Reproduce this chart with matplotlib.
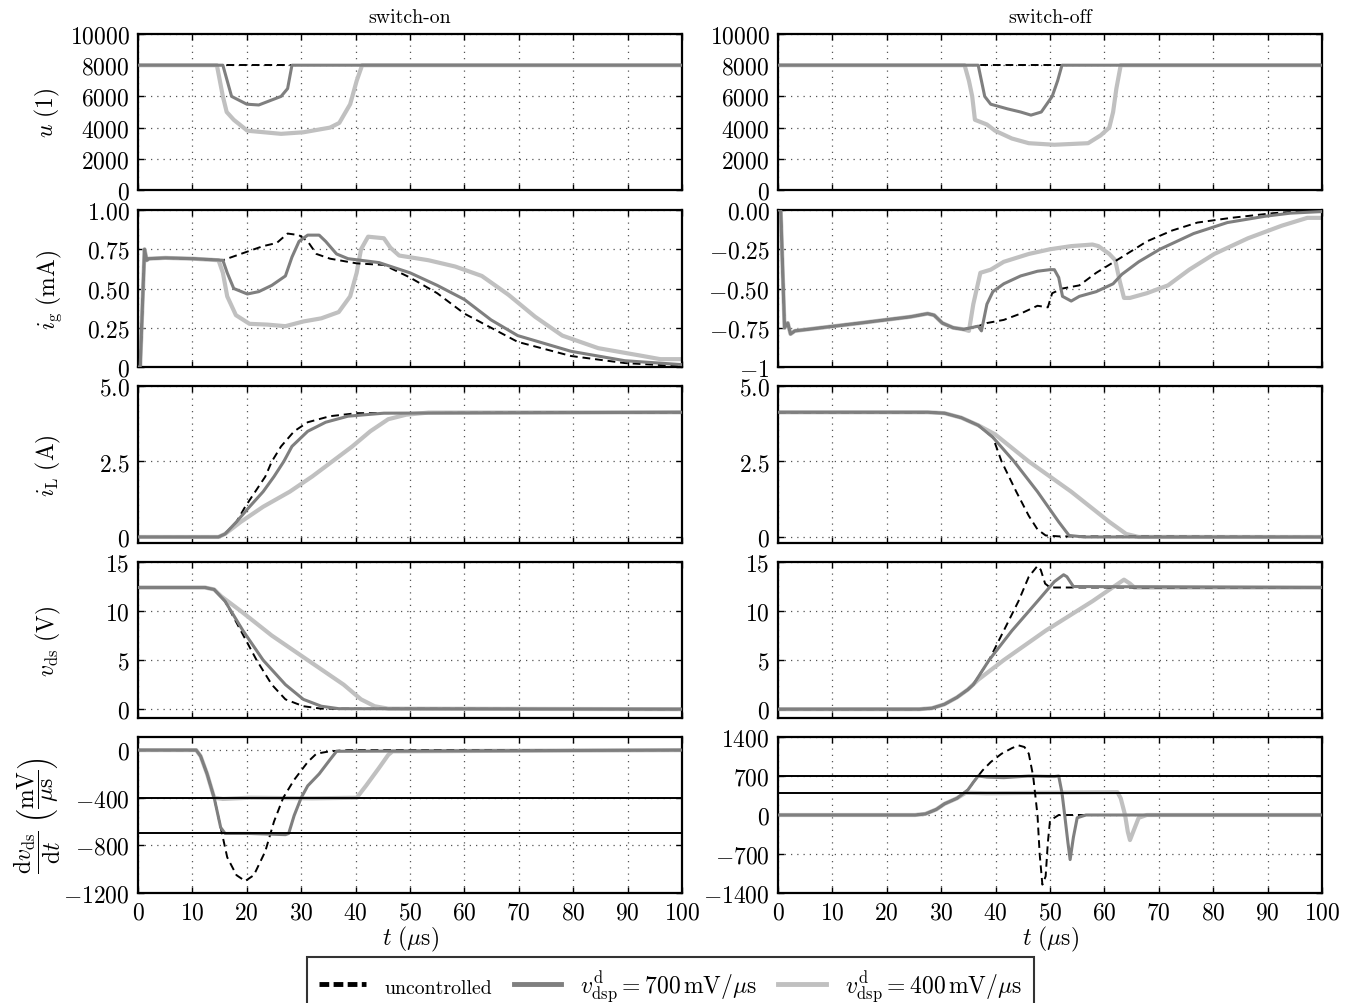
import matplotlib
matplotlib.use("Agg")
import matplotlib.pyplot as plt
from matplotlib.lines import Line2D
import numpy as np

plt.rcParams.update({
    "font.family": "serif",
    "font.serif": ["cmr10", "DejaVu Serif"],
    "mathtext.fontset": "cm",
    "axes.formatter.use_mathtext": True,
    "font.size": 17,
})

# ---------------- data ----------------
# Row 1: u (1)
t_u_on_unc = [0, 100]; u_on_unc = [8000, 8000]
t_u_on_700 = [0, 15.6, 17.2, 20.0, 22.2, 26.3, 27.5, 28.3, 100]
u_on_700 = [8000, 8000, 6000, 5500, 5450, 6000, 6500, 8000, 8000]
t_u_on_400 = [0, 14.5, 15.6, 16.3, 17.6, 20.1, 26.3, 30.4, 35.3, 37.0, 39.0, 40.2, 41.2, 100]
u_on_400 = [8000, 8000, 6000, 5000, 4500, 3800, 3600, 3700, 4000, 4300, 5500, 7000, 8000, 8000]

t_u_off_unc = [0, 100]; u_off_unc = [8000, 8000]
t_u_off_700 = [0, 36.8, 38.0, 39.1, 42.2, 44.6, 46.5, 48.4, 50.4, 51.4, 52.2, 100]
u_off_700 = [8000, 8000, 6000, 5500, 5200, 5000, 4800, 5000, 6000, 7000, 8000, 8000]
t_u_off_400 = [0, 34.3, 35.1, 35.7, 36.2, 38.4, 39.9, 43.0, 46.1, 50.8, 57.0, 59.3, 60.9, 61.6, 62.2, 63.0, 100]
u_off_400 = [8000, 8000, 7000, 6000, 4500, 4200, 3800, 3300, 3000, 2900, 3000, 3500, 4000, 5000, 6500, 8000, 8000]

# Row 2: i_g (mA)
t_ig_on_700 = [0, 0.4, 1.2, 1.6, 2.0, 5, 10, 15.6, 16.4, 17.6, 20.1, 22.2, 24.6, 27.1, 28.3, 29.6, 31.2,
               33.3, 34.5, 36.5, 38.6, 44.3, 50, 55, 60, 64.9, 69.8, 79.6, 89.5, 100]
ig_on_700 = [0, 0, 0.75, 0.68, 0.69, 0.695, 0.69, 0.68, 0.60, 0.50, 0.465, 0.48, 0.52, 0.58, 0.70, 0.80, 0.84,
             0.84, 0.80, 0.72, 0.69, 0.665, 0.60, 0.52, 0.43, 0.30, 0.20, 0.10, 0.04, 0.015]
t_ig_on_unc = [0, 0.4, 1.2, 1.6, 2.0, 5, 10, 15.6, 16.4, 19.7, 23.0, 25.5, 27.5, 29.6, 31.2, 32.8, 35.3,
               40.2, 45.2, 50, 55, 60, 64.9, 69.8, 79.6, 89.5, 100]
ig_on_unc = [0, 0, 0.75, 0.68, 0.69, 0.695, 0.69, 0.68, 0.69, 0.73, 0.77, 0.79, 0.85, 0.84, 0.80, 0.72, 0.69,
             0.66, 0.65, 0.57, 0.47, 0.34, 0.25, 0.16, 0.07, 0.025, 0.005]
t_ig_on_400 = [0, 0.4, 1.2, 1.6, 2.0, 5, 10, 14.8, 15.6, 16.4, 18.0, 20.5, 23.8, 27.1, 30.4, 33.7, 36.9, 39.0,
               40.2, 41.0, 42.3, 45.2, 46.4, 48.0, 53.4, 58.3, 63.2, 68.1, 73.0, 78.0, 84.6, 92.8, 96.0, 100]
ig_on_400 = [0, 0, 0.75, 0.68, 0.69, 0.695, 0.69, 0.68, 0.60, 0.45, 0.33, 0.275, 0.27, 0.26, 0.29, 0.31, 0.35, 0.45,
             0.60, 0.75, 0.83, 0.82, 0.76, 0.71, 0.68, 0.64, 0.58, 0.46, 0.32, 0.20, 0.12, 0.07, 0.05, 0.05]

t_ig_off_700 = [0, 0.5, 1.2, 1.8, 2.3, 3.1, 15.1, 24.4, 27.5, 28.7, 30.2, 32.2, 34.1, 36.8, 37.4, 38.4, 39.5,
                41.5, 44.6, 47.7, 50.0, 50.8, 51.6, 52.3, 53.9, 55.4, 58.5, 61.6, 63.2, 66.3, 70.2, 76.4, 82.6,
                89.5, 94.2, 100]
ig_off_700 = [0, 0, -0.75, -0.72, -0.79, -0.77, -0.72, -0.68, -0.66, -0.67, -0.72, -0.75, -0.76, -0.74, -0.77,
              -0.60, -0.52, -0.47, -0.42, -0.39, -0.38, -0.38, -0.43, -0.55, -0.58, -0.55, -0.52, -0.47, -0.41,
              -0.33, -0.25, -0.15, -0.08, -0.04, -0.02, -0.01]
t_ig_off_unc = [0, 0.5, 1.2, 1.8, 2.3, 3.1, 15.1, 24.4, 27.5, 28.7, 30.2, 32.2, 34.1, 36.8, 38.4, 41.5, 44.6,
                47.7, 49.6, 50.4, 52.3, 55.4, 58.5, 63.2, 67.8, 72.5, 77.1, 83.3, 91.1, 100]
ig_off_unc = [0, 0, -0.75, -0.72, -0.79, -0.77, -0.72, -0.68, -0.66, -0.67, -0.72, -0.75, -0.76, -0.74, -0.72,
              -0.70, -0.66, -0.61, -0.62, -0.53, -0.50, -0.48, -0.40, -0.30, -0.20, -0.13, -0.08, -0.05, -0.02, 0.0]
t_ig_off_400 = [0, 0.5, 1.2, 1.8, 2.3, 3.1, 15.1, 24.4, 27.5, 28.7, 30.2, 32.2, 34.1, 35.1, 35.9, 37.2, 39.1,
                41.5, 46.1, 50.0, 53.9, 57.8, 58.9, 60.9, 62.0, 62.8, 63.6, 64.7, 67.8, 71.7, 75.6, 80.2, 86.4,
                92.6, 97.3, 100]
ig_off_400 = [0, 0, -0.75, -0.72, -0.79, -0.77, -0.72, -0.68, -0.66, -0.67, -0.72, -0.75, -0.76, -0.77, -0.60,
              -0.40, -0.38, -0.33, -0.28, -0.25, -0.23, -0.22, -0.23, -0.28, -0.32, -0.45, -0.56, -0.56, -0.53,
              -0.48, -0.38, -0.28, -0.18, -0.10, -0.05, -0.05]

# Row 3: i_L (A)
t_iL_on_700 = [0, 14.8, 16.0, 18.1, 20.5, 23.0, 25.0, 26.8, 28.3, 31.2, 34.5, 38.6, 45.2, 100]
iL_on_700 = [0, 0, 0.1, 0.5, 1.0, 1.5, 2.0, 2.5, 3.0, 3.5, 3.8, 4.0, 4.1, 4.13]
t_iL_on_unc = [0, 14.8, 16.0, 18.1, 19.7, 23.4, 24.6, 26.3, 28.7, 31.2, 35.3, 40.2, 100]
iL_on_unc = [0, 0, 0.1, 0.5, 1.0, 2.0, 2.5, 3.0, 3.5, 3.8, 4.0, 4.1, 4.13]
t_iL_on_400 = [0, 14.8, 16.0, 18.9, 23.0, 27.9, 32.0, 35.7, 39.4, 42.7, 46.0, 49.3, 53.4, 100]
iL_on_400 = [0, 0, 0.1, 0.5, 1.0, 1.5, 2.0, 2.5, 3.0, 3.5, 3.9, 4.05, 4.12, 4.13]

t_iL_off_unc = [0, 27.5, 30.6, 33.7, 36.8, 39.5, 41.1, 43.8, 46.1, 47.7, 49.2, 51.6, 100]
iL_off_unc = [4.13, 4.13, 4.1, 3.95, 3.7, 3.3, 2.5, 1.5, 0.7, 0.25, 0.05, 0.02, 0.0]
t_iL_off_700 = [0, 27.5, 30.6, 33.7, 36.8, 39.5, 43.4, 47.7, 51.6, 53.5, 56.2, 100]
iL_off_700 = [4.13, 4.13, 4.1, 3.95, 3.7, 3.3, 2.5, 1.5, 0.5, 0.05, 0.0, 0.0]
t_iL_off_400 = [0, 27.5, 30.6, 33.7, 36.8, 39.9, 46.1, 53.9, 60.9, 64.0, 66.3, 100]
iL_off_400 = [4.13, 4.13, 4.1, 3.95, 3.7, 3.4, 2.5, 1.5, 0.5, 0.1, 0.0, 0.0]

# Row 4: v_ds (V)
t_v_on_unc = [0, 12.3, 14.0, 16.0, 18.9, 21.8, 24.6, 27.1, 30.4, 33.7, 100]
v_on_unc = [12.4, 12.4, 12.2, 11.0, 8.0, 5.0, 2.5, 1.0, 0.3, 0.05, 0.0]
t_v_on_700 = [0, 12.3, 14.0, 16.0, 19.3, 23.0, 27.1, 30.4, 33.7, 36.9, 100]
v_on_700 = [12.4, 12.4, 12.2, 11.0, 8.0, 5.0, 2.5, 1.0, 0.3, 0.05, 0.0]
t_v_on_400 = [0, 12.3, 14.0, 15.3, 18.9, 24.6, 31.2, 37.8, 41.0, 43.5, 46.0, 100]
v_on_400 = [12.4, 12.4, 12.2, 11.5, 10.0, 7.5, 5.0, 2.5, 1.0, 0.3, 0.05, 0.0]

t_v_off_unc = [0, 26.0, 28.3, 30.6, 32.9, 34.9, 35.9, 38.8, 41.5, 44.2, 46.1, 47.7, 48.3, 49.1, 50.0, 100]
v_off_unc = [0, 0, 0.1, 0.5, 1.2, 2.0, 2.5, 5.0, 8.0, 11.0, 13.5, 14.6, 14.2, 12.8, 12.4, 12.4]
t_v_off_700 = [0, 26.0, 28.3, 30.6, 32.9, 34.9, 35.9, 38.8, 43.0, 47.7, 50.8, 52.5, 53.1, 54.3, 100]
v_off_700 = [0, 0, 0.1, 0.5, 1.2, 2.0, 2.5, 5.0, 8.0, 11.0, 13.0, 13.7, 13.5, 12.5, 12.4]
t_v_off_400 = [0, 26.0, 28.3, 30.6, 32.9, 34.9, 36.8, 41.5, 49.2, 57.8, 63.6, 64.7, 65.5, 100]
v_off_400 = [0, 0, 0.1, 0.5, 1.2, 2.0, 3.0, 5.0, 8.0, 11.0, 13.2, 12.8, 12.4, 12.4]

# Row 5: dv_ds/dt (mV/us)
t_d_on_700 = [0, 10.7, 11.5, 12.7, 14.0, 15.2, 16.0, 20.5, 27.1, 27.7, 28.7, 30.0, 31.2, 33.3, 35.3, 36.5, 100]
d_on_700 = [0, 0, -50, -200, -400, -650, -700, -700, -710, -700, -550, -400, -300, -200, -80, -10, 0]
t_d_on_400 = [0, 10.7, 11.5, 12.7, 14.0, 15.6, 20.5, 32.0, 40.2, 41.9, 44.3, 46.0, 46.8, 100]
d_on_400 = [0, 0, -50, -200, -400, -410, -400, -405, -400, -300, -150, -40, -10, 0]
t_d_on_unc = [0, 10.7, 11.5, 12.7, 14.0, 15.2, 16.4, 18.1, 19.7, 21.3, 23.4, 25.0, 26.7, 28.7, 31.2, 32.8,
              35.3, 38.6, 100]
d_on_unc = [0, 0, -50, -200, -400, -650, -900, -1050, -1100, -1050, -850, -600, -400, -250, -100, -30,
            -10, 0, 0]
ref_on = [-400, -700]

t_d_off_unc = [0, 25.2, 27.1, 29.1, 30.6, 32.9, 34.9, 36.0, 36.8, 37.6, 39.1, 41.1, 43.0, 44.2, 45.3, 46.1,
               46.9, 47.7, 48.1, 48.6, 49.2, 49.6, 50.0, 51.6, 100]
d_off_unc = [0, 0, 20, 100, 200, 300, 450, 600, 700, 800, 950, 1100, 1200, 1250, 1220, 1100,
             700, 0, -700, -1250, -1100, -500, -100, 0, 0]
t_d_off_700 = [0, 25.2, 27.1, 29.1, 30.6, 32.9, 34.9, 36.0, 36.8, 38.4, 41.5, 46.1, 50.8, 51.6, 52.2, 52.7,
               53.3, 53.7, 54.3, 55.0, 56.6, 100]
d_off_700 = [0, 0, 20, 100, 200, 300, 450, 600, 700, 680, 670, 700, 690, 700, 400, 0,
             -500, -800, -400, -50, 0, 0]
t_d_off_400 = [0, 25.2, 27.1, 29.1, 30.6, 32.9, 34.5, 38.4, 50.0, 62.4, 63.0, 63.8, 64.3, 64.7, 65.3, 66.3,
               67.8, 100]
d_off_400 = [0, 0, 20, 100, 200, 300, 400, 390, 400, 410, 300, 0, -300, -450, -300, -50, 0, 0]
ref_off = [700, 400]

titles = ["switch-on", "switch-off"]
ylabels = [r"$u\ (1)$", r"$i_{\mathrm{g}}\ (\mathrm{mA})$", r"$i_{\mathrm{L}}\ (\mathrm{A})$",
           r"$v_{\mathrm{ds}}\ (\mathrm{V})$",
           r"$\dfrac{\mathrm{d}v_{\mathrm{ds}}}{\mathrm{d}t}\ \left(\dfrac{\mathrm{mV}}{\mu\mathrm{s}}\right)$"]
xticks = list(range(0, 101, 10))

# ---------------- styles ----------------
C_UNC = "black"
C_700 = "#7f7f7f"
C_400 = "#c0c0c0"
LW_UNC = 1.4
LW_700 = 2.2
LW_400 = 3.0
FS = 17      # math text (ticks, labels)
FS_TXT = 14.3  # plain roman text

W, H = 1353, 1004
fig = plt.figure(figsize=(W / 100, H / 100), dpi=100)

col_x = [138, 778]
col_w = 544
rows_px = [(35, 191), (211, 368), (387, 544), (563, 719), (738, 894)]
label_x_px = [62, 64, 63, 63, 63]

def mk_ax(col, row):
    top, bot = rows_px[row]
    return fig.add_axes([col_x[col] / W, 1 - bot / H, col_w / W, (bot - top) / H])

data = [
    [(t_u_on_unc, u_on_unc, t_u_on_700, u_on_700, t_u_on_400, u_on_400),
     (t_u_off_unc, u_off_unc, t_u_off_700, u_off_700, t_u_off_400, u_off_400)],
    [(t_ig_on_unc, ig_on_unc, t_ig_on_700, ig_on_700, t_ig_on_400, ig_on_400),
     (t_ig_off_unc, ig_off_unc, t_ig_off_700, ig_off_700, t_ig_off_400, ig_off_400)],
    [(t_iL_on_unc, iL_on_unc, t_iL_on_700, iL_on_700, t_iL_on_400, iL_on_400),
     (t_iL_off_unc, iL_off_unc, t_iL_off_700, iL_off_700, t_iL_off_400, iL_off_400)],
    [(t_v_on_unc, v_on_unc, t_v_on_700, v_on_700, t_v_on_400, v_on_400),
     (t_v_off_unc, v_off_unc, t_v_off_700, v_off_700, t_v_off_400, v_off_400)],
    [(t_d_on_unc, d_on_unc, t_d_on_700, d_on_700, t_d_on_400, d_on_400),
     (t_d_off_unc, d_off_unc, t_d_off_700, d_off_700, t_d_off_400, d_off_400)],
]

ylims = [[(0, 10000), (0, 10000)],
         [(0, 1.0), (-1.0, 0.0)],
         [(-0.2, 5.0), (-0.2, 5.0)],
         [(-0.9, 15), (-0.9, 15)],
         [(-1200, 110), (-1400, 1400)]]
yticks = [[[0, 2000, 4000, 6000, 8000, 10000]] * 2,
          [[0, 0.25, 0.5, 0.75, 1.0], [-1, -0.75, -0.5, -0.25, 0]],
          [[0, 2.5, 5.0]] * 2,
          [[0, 5, 10, 15]] * 2,
          [[-1200, -800, -400, 0], [-1400, -700, 0, 700, 1400]]]
yticklabels = [[["0", "2000", "4000", "6000", "8000", "10000"]] * 2,
               [["0", "0.25", "0.50", "0.75", "1.00"], ["-1", "-0.75", "-0.50", "-0.25", "0.00"]],
               [["0", "2.5", "5.0"]] * 2,
               [["0", "5", "10", "15"]] * 2,
               [["-1200", "-800", "-400", "0"], ["-1400", "-700", "0", "700", "1400"]]]

for r in range(5):
    for c in range(2):
        ax = mk_ax(c, r)
        tu, yu, t7, y7, t4, y4 = data[r][c]
        ax.plot(t4, y4, color=C_400, lw=LW_400, zorder=2)
        ax.plot(tu, yu, color=C_UNC, lw=LW_UNC, ls=(0, (4, 2.5)), zorder=3)
        ax.plot(t7, y7, color=C_700, lw=LW_700, zorder=4)
        if r == 4:
            for v in (ref_on if c == 0 else ref_off):
                ax.axhline(v, color="black", lw=1.4, zorder=5)
        ax.set_xlim(0, 100)
        ax.set_ylim(*ylims[r][c])
        ax.set_xticks(xticks)
        ax.set_yticks(yticks[r][c])
        ax.set_yticklabels(["$" + s + "$" for s in yticklabels[r][c]])
        if r == 4:
            ax.set_xticklabels(["$%d$" % v for v in xticks])
            ax.set_xlabel(r"$t\ (\mu\mathrm{s})$", fontsize=FS, labelpad=0)
        else:
            ax.set_xticklabels([])
        ax.tick_params(direction="in", top=True, right=True, length=4, width=1.0,
                       labelsize=FS, pad=6)
        ax.grid(True, ls=(0, (1, 4)), color="#555555", lw=0.9)
        for sp in ax.spines.values():
            sp.set_linewidth(1.6)
        if r == 0:
            ax.set_title(titles[c], fontsize=FS_TXT, pad=9)
        if c == 0:
            ax.set_ylabel(ylabels[r], fontsize=FS)
            ax.yaxis.set_label_coords((label_x_px[r] - col_x[0]) / col_w, 0.5)

handles = [Line2D([], [], color=C_UNC, lw=3.5, ls=(0, (2.0, 0.9))),
           Line2D([], [], color=C_700, lw=3.5),
           Line2D([], [], color=C_400, lw=3.5)]
labels = ["uncontrolled",
          r"$v_{\mathrm{dsp}}^{\mathrm{d}} = 700\,\mathrm{mV}/\mu\mathrm{s}$",
          r"$v_{\mathrm{dsp}}^{\mathrm{d}} = 400\,\mathrm{mV}/\mu\mathrm{s}$"]
leg = fig.legend(handles, labels, loc="upper left", bbox_to_anchor=(307 / W, 1 - 958 / H),
                 ncol=3, frameon=True, fancybox=False, edgecolor="black", fontsize=FS,
                 handlelength=2.0, handletextpad=0.8, columnspacing=0.9, borderpad=0.5,
                 borderaxespad=0.0)
leg.get_frame().set_linewidth(1.5)
leg.get_texts()[0].set_fontsize(FS_TXT)

fig.savefig("out.png", dpi=100)
